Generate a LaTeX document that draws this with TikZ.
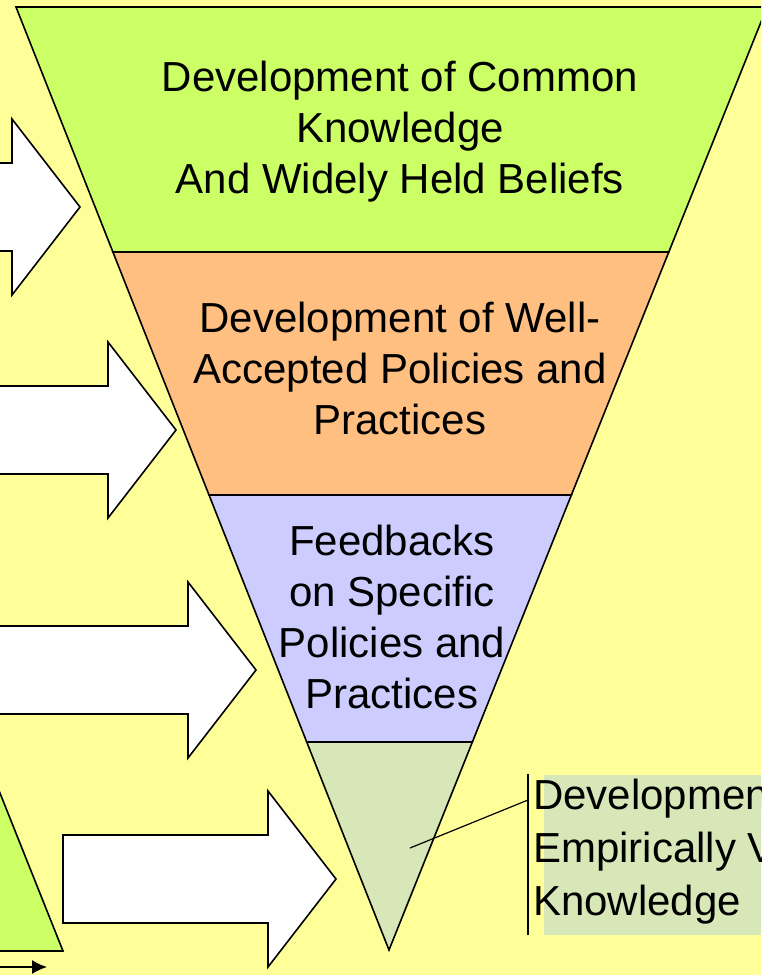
\documentclass[tikz,border=0pt]{standalone}
\usepackage{fontspec}
\setmainfont{Liberation Sans}
\usetikzlibrary{calc}
\usetikzlibrary{arrows.meta}
\usetikzlibrary{positioning}

\definecolor{bgyellow}{HTML}{FFFF99}
\definecolor{lvlgreen}{HTML}{CCFF66}
\definecolor{lvlorange}{HTML}{FFBF80}
\definecolor{lvlblue}{HTML}{CCCCFF}
\definecolor{lvlpale}{HTML}{D7E7B7}

\tikzset{
  band/.style={draw=black, line width=1.6pt, line join=miter},
  bigarrow/.style={draw=black, fill=white, line width=1.6pt, line join=miter},
  lvltext/.style={align=center, font=\fontsize{42}{51}\selectfont, inner sep=0pt},
}

\begin{document}
\begin{tikzpicture}[x=1pt, y=-1pt]
\useasboundingbox (0,0) rectangle (761,975);
\clip (0,0) rectangle (761,975);
\fill[bgyellow] (0,0) rectangle (761,975);

% funnel corners and band borders
\coordinate (TL) at (16,7);
\coordinate (TR) at (767,7);
\coordinate (A) at (389,950);
\foreach \t/\n in {0.2598/1, 0.5175/2, 0.7794/3} {
  \coordinate (L\n) at ($(TL)!\t!(A)$);
  \coordinate (R\n) at ($(TR)!\t!(A)$);
}
\path[band, fill=lvlgreen] (TL) -- (TR) -- (R1) -- (L1) -- cycle;
\path[band, fill=lvlorange] (L1) -- (R1) -- (R2) -- (L2) -- cycle;
\path[band, fill=lvlblue] (L2) -- (R2) -- (R3) -- (L3) -- cycle;
\path[band, fill=lvlpale] (L3) -- (R3) -- (A) -- cycle;

\node[lvltext] (common) at (400,132) {Development of Common\\Knowledge\\And Widely Held Beliefs};
\node[lvltext] (policies) at (400,368) {Development of Well-\\Accepted Policies and\\Practices};
\node[lvltext] (feedback) at (392,617) {Feedbacks\\on Specific\\Policies and\\Practices};

% block arrows: tip x / tip y / tail x
\foreach \tx/\ty/\tail in {80/207/-100, 176/430/-100, 256/670/-100, 336/879/63} {
  \draw[bigarrow] (\tail,\ty-44) -- (\tx-68,\ty-44) -- (\tx-68,\ty-88) -- (\tx,\ty)
    -- (\tx-68,\ty+88) -- (\tx-68,\ty+44) -- (\tail,\ty+44) -- cycle;
}

% callout
\fill[lvlpale] (544,775) rectangle (775,935);
\node[lvltext, align=left, anchor=west, font=\fontsize{42}{53}\selectfont] (empirical) at (533,852) {Developmen\\Empirically V\\Knowledge};
\coordinate (barT) at (528,774);
\coordinate (barB) at (528,935);
\coordinate (barC) at (528,800);
\coordinate (pin) at (410,848);
\draw[line width=1.2pt] (barT) -- (barB);
\draw[line width=1.2pt] (pin) -- (barC);

% bottom left corner
\path[band, fill=lvlgreen] (-20,743) -- (63,951) -- (-20,951) -- cycle;
\coordinate (s0) at (-5,967);
\coordinate (s1) at (47,967);
\draw[line width=1.5pt, -{Latex[length=15pt,width=14pt]}] (s0) -- (s1);
\end{tikzpicture}
\end{document}
